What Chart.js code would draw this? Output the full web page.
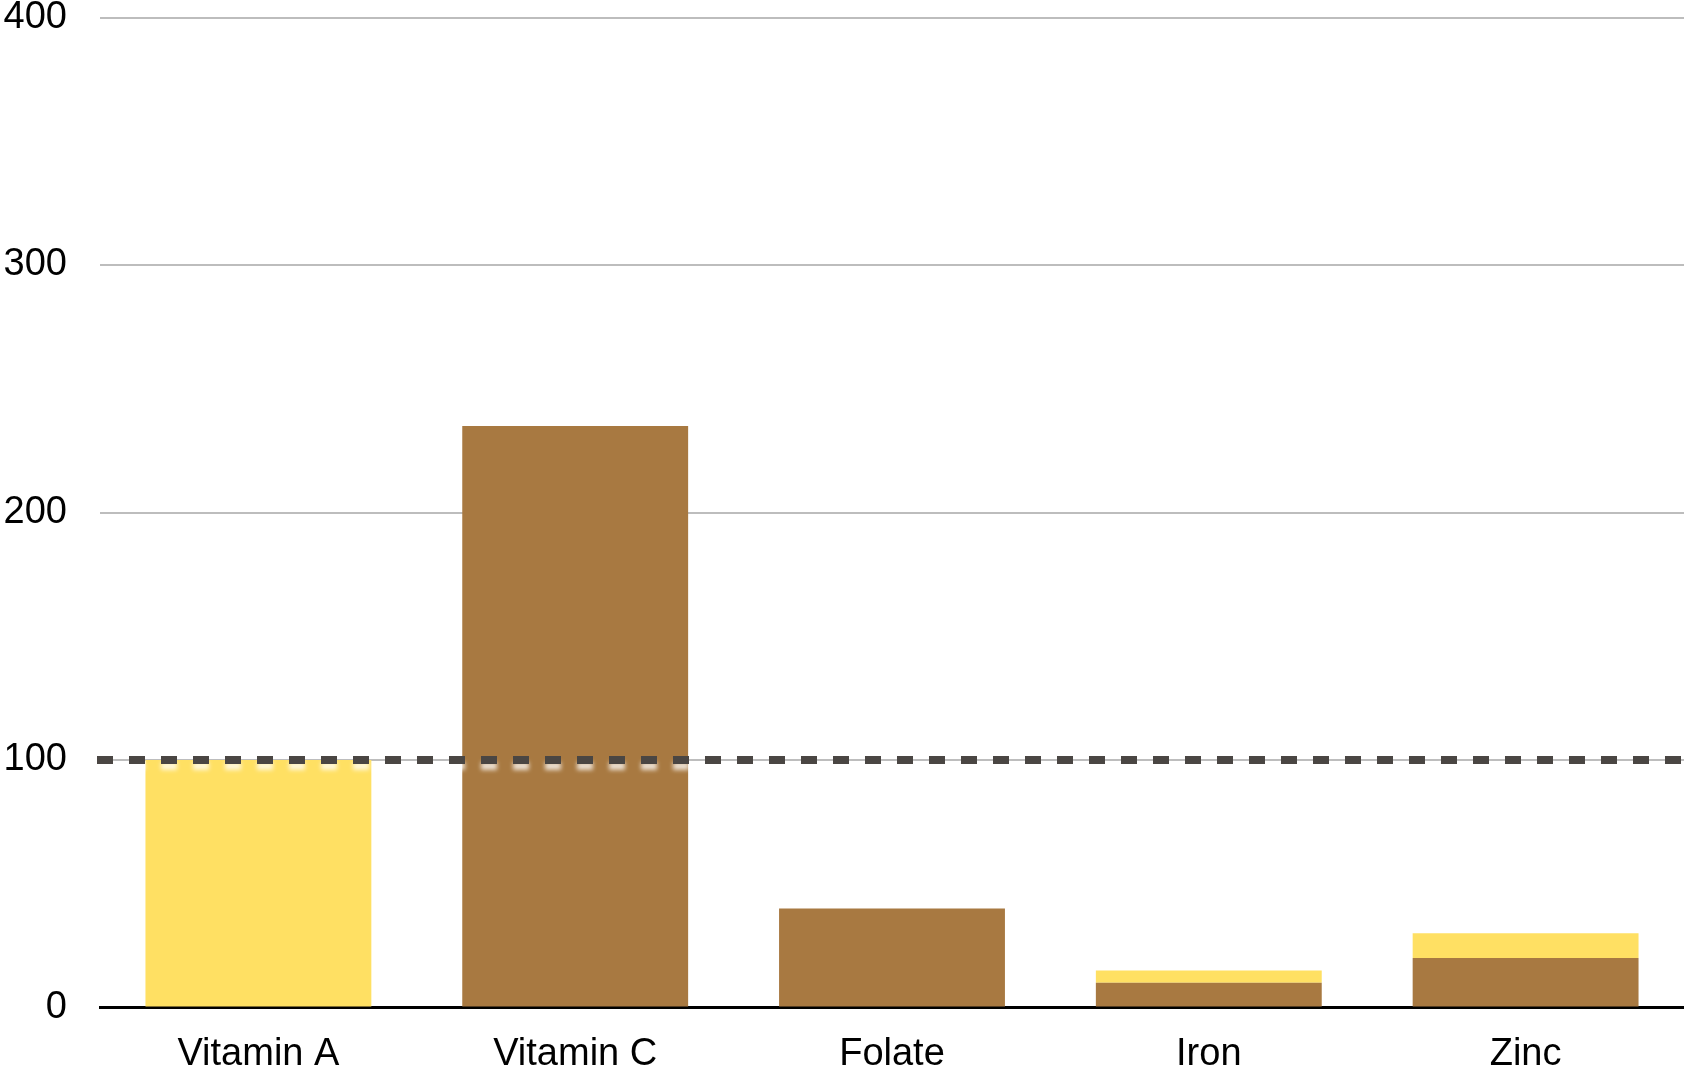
<!DOCTYPE html>
<html>
<head>
<meta charset="utf-8">
<script src="https://cdn.jsdelivr.net/npm/chart.js@4/dist/chart.umd.min.js"></script>
<style>
  html, body { margin: 0; padding: 0; background: #fff; }
  #wrap { width: 1684px; height: 1068px; }
</style>
</head>
<body>
<div id="wrap"><canvas id="nutrientChart"></canvas></div>
<script>
// Chart data
const nutrients = ['Vitamin A', 'Vitamin C', 'Folate', 'Iron', 'Zinc'];
const brownValues = [0, 235, 40, 10, 20];
const yellowValues = [100, 0, 0, 5, 10];
const yTicks = [0, 100, 200, 300, 400];
const targetLine = 100;

// Dashed reference line on top of the bars
const targetLinePlugin = {
    id: 'targetLine',
    afterDatasetsDraw(chart) {
        const { ctx, chartArea, scales } = chart;
        const y = scales.y.getPixelForValue(targetLine);
        ctx.save();
        ctx.strokeStyle = '#4a4643';
        ctx.lineWidth = 8;
        ctx.setLineDash([16, 16]);
        ctx.shadowColor = 'rgba(255,255,255,0.75)';
        ctx.shadowOffsetY = 6;
        ctx.shadowBlur = 4;
        ctx.beginPath();
        ctx.moveTo(chartArea.left - 3, y);
        ctx.lineTo(chartArea.right, y);
        ctx.stroke();
        ctx.restore();
    }
};

const labelFont = { family: '"Liberation Sans", Arial, sans-serif', size: 38, lineHeight: 1 };

const ctx = document.getElementById('nutrientChart').getContext('2d');
new Chart(ctx, {
    type: 'bar',
    data: {
        labels: nutrients,
        datasets: [
            { label: 'Brown', data: brownValues, backgroundColor: '#a87941', categoryPercentage: 1, barPercentage: 0.713 },
            { label: 'Yellow', data: yellowValues, backgroundColor: '#ffe063', categoryPercentage: 1, barPercentage: 0.713 }
        ]
    },
    options: {
        responsive: true,
        maintainAspectRatio: false,
        animation: false,
        layout: { padding: { top: 17.5, right: 0, bottom: 0, left: 0 } },
        scales: {
            x: {
                stacked: true,
                grid: { display: false },
                border: { display: true, color: '#000', width: 3 },
                ticks: { color: '#000', padding: 20, font: labelFont, maxRotation: 0 },
                afterFit: (scale) => { scale.height = 60.5; }
            },
            y: {
                stacked: true,
                min: 0,
                max: 400,
                afterBuildTicks: (scale) => { scale.ticks = yTicks.map(v => ({ value: v })); },
                grid: { color: '#bdbdbd', lineWidth: 2, drawTicks: false },
                border: { display: false },
                ticks: { color: '#000', padding: 33, font: labelFont },
                afterFit: (scale) => { scale.width = 100; scale.paddingTop = 0; scale.paddingBottom = 0; }
            }
        },
        plugins: {
            legend: { display: false },
            tooltip: { enabled: false }
        }
    },
    plugins: [targetLinePlugin]
});
</script>
</body>
</html>
